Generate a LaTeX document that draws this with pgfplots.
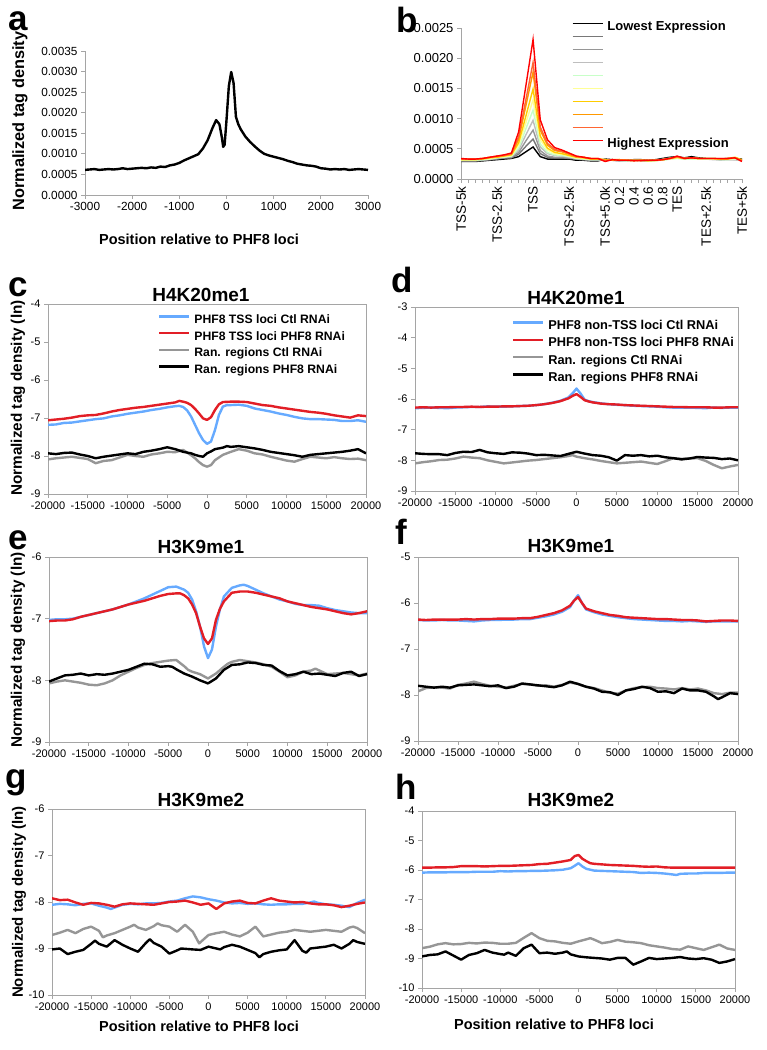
\documentclass[border=0pt]{standalone}
\usepackage{fontspec}
\setmainfont{Liberation Sans}
\usepackage{pgfplots}
\pgfplotsset{compat=1.18}

\definecolor{axgray}{RGB}{165,165,165}
\definecolor{cblue}{RGB}{102,170,255}
\definecolor{cred}{RGB}{226,30,38}
\definecolor{cgray}{RGB}{150,150,150}
\definecolor{e1}{RGB}{0,0,0}
\definecolor{e2}{RGB}{120,120,120}
\definecolor{e3}{RGB}{150,150,150}
\definecolor{e4}{RGB}{190,190,190}
\definecolor{e5}{RGB}{200,255,200}
\definecolor{e6}{RGB}{255,255,150}
\definecolor{e7}{RGB}{255,204,0}
\definecolor{e8}{RGB}{255,153,0}
\definecolor{e9}{RGB}{255,102,51}
\definecolor{e10}{RGB}{255,0,0}

\pgfplotsset{
  /pgf/number format/assume math mode=true,
  /pgf/number format/1000 sep={},
  base/.style={
    scale only axis, scaled ticks=false,
    axis line style={draw=axgray, line width=0.9pt},
    tick style={draw=axgray, line width=0.9pt},
    major tick length=4pt, minor tick length=4pt, tick align=outside,
  },
  boxed/.style={
    base, xtick pos=bottom, ytick pos=left,
    xmin=-20000, xmax=20000, xtick={-20000,-15000,...,20000},
    tick label style={font=\fontsize{11}{12}\selectfont},
  },
  tr/.style={line width=2.4pt, line join=round},
  leg/.style={
    legend image code/.code={\draw[##1] (0pt,4.2pt) -- (30pt,4.2pt);},
    legend cell align=left,
    legend style={draw=none, fill=none, inner sep=0pt, outer sep=0pt,
      anchor=north west, row sep=0pt,
      /tikz/every odd column/.append style={column sep=4pt}},
  },
}

\begin{document}
\begin{tikzpicture}
\useasboundingbox (0,0) rectangle (767pt,1050pt);

% ---------- a ----------
\begin{axis}[base, axis lines*=left, at={(85pt,855pt)}, anchor=south west,
  width=283pt, height=144pt,
  xmin=-3000, xmax=3000, ymin=0, ymax=0.0035,
  xtick={-3000,-2000,...,3000},
  ytick={0,0.0005,0.0010,0.0015,0.0020,0.0025,0.0030,0.0035},
  yticklabel style={/pgf/number format/.cd, fixed, fixed zerofill, precision=4},
  tick label style={font=\fontsize{11.8}{13}\selectfont},
]
\addplot[tr, black] coordinates {
 (-3000,0.00061) (-2900,0.00062) (-2800,0.00063) (-2700,0.00061) (-2600,0.00062) (-2500,0.00063)
 (-2400,0.00062) (-2300,0.00063) (-2200,0.00065) (-2100,0.00063) (-2000,0.00064) (-1900,0.00065)
 (-1800,0.00066) (-1700,0.00065) (-1600,0.00067) (-1500,0.00066) (-1400,0.00069) (-1300,0.00068)
 (-1200,0.00072) (-1100,0.00074) (-1000,0.00078) (-900,0.00084) (-800,0.00089) (-700,0.00094)
 (-600,0.00099) (-500,0.00113) (-400,0.00133) (-300,0.00162) (-220,0.00182) (-150,0.00172)
 (-100,0.00141) (-70,0.00117) (-40,0.00122) (0,0.00182) (50,0.00265) (100,0.00299) (150,0.00272)
 (200,0.00190) (250,0.00172) (300,0.00160) (400,0.00142) (500,0.00129) (600,0.00118) (700,0.00108)
 (800,0.00100) (900,0.00096) (1000,0.00093) (1100,0.00090) (1200,0.00087) (1300,0.00083)
 (1400,0.00080) (1500,0.00076) (1600,0.00074) (1700,0.00072) (1800,0.00071) (1900,0.00069)
 (2000,0.00065) (2100,0.00064) (2200,0.00062) (2300,0.00063) (2400,0.00062) (2500,0.00063)
 (2600,0.00061) (2700,0.00062) (2800,0.00063) (2900,0.00062) (3000,0.00061)};
\end{axis}

% ---------- b ----------
\begin{axis}[base, leg, axis lines*=left, at={(461pt,871pt)}, anchor=south west,
  width=281pt, height=151pt,
  xmin=0, xmax=39, ymin=0, ymax=0.0025,
  xtick={0,5,10,15,20,22,24,26,28,30,34,39},
  xticklabels={TSS-5k,TSS-2.5k,TSS,TSS+2.5k,TSS+5.0k,0.2,0.4,0.6,0.8,TES,TES+2.5k,TES+5k},
  minor xtick={0,...,39},
  xticklabel style={rotate=90, anchor=east, font=\fontsize{13.5}{15}\selectfont},
  ytick={0,0.0005,0.0010,0.0015,0.0020,0.0025},
  yticklabel style={font=\fontsize{13}{15}\selectfont,
    /pgf/number format/.cd, fixed, fixed zerofill, precision=4},
  legend style={at={(0.395,1.045)}, font=\bfseries\fontsize{13}{13}\selectfont,
    nodes={inner sep=0pt, text height=9pt, text depth=4pt}},
]
\addplot[line width=1.4pt, e1] coordinates {
 (0,0.00029) (1,0.00029) (2,0.00029) (3,0.00030) (4,0.00031) (5,0.00032) (6,0.00033) (7,0.00034)
 (8,0.00037) (9,0.00045) (10,0.00053) (11,0.00037) (12,0.00033) (13,0.00033) (14,0.00033) (15,0.00033)
 (16,0.00031) (17,0.00031) (18,0.00030) (19,0.00030) (20,0.00033) (21,0.00032) (22,0.00031) (23,0.00031)
 (24,0.00032) (25,0.00032) (26,0.00031) (27,0.00032) (28,0.00034) (29,0.00036) (30,0.00037) (31,0.00035)
 (32,0.00037) (33,0.00035) (34,0.00034) (35,0.00034) (36,0.00033) (37,0.00034) (38,0.00034) (39,0.00033)};
\addplot[line width=1.4pt, e2] coordinates {
 (0,0.00030) (1,0.00030) (2,0.00030) (3,0.00031) (4,0.00032) (5,0.00033) (6,0.00035) (7,0.00035)
 (8,0.00041) (9,0.00054) (10,0.00066) (11,0.00042) (12,0.00036) (13,0.00035) (14,0.00035) (15,0.00034)
 (16,0.00033) (17,0.00032) (18,0.00031) (19,0.00031) (20,0.00032) (21,0.00031) (22,0.00030) (23,0.00031)
 (24,0.00031) (25,0.00031) (26,0.00030) (27,0.00031) (28,0.00033) (29,0.00035) (30,0.00036) (31,0.00034)
 (32,0.00035) (33,0.00034) (34,0.00033) (35,0.00033) (36,0.00032) (37,0.00033) (38,0.00033) (39,0.00032)};
\addplot[line width=1.4pt, e3] coordinates {
 (0,0.00030) (1,0.00030) (2,0.00030) (3,0.00031) (4,0.00032) (5,0.00034) (6,0.00035) (7,0.00036)
 (8,0.00044) (9,0.00063) (10,0.00081) (11,0.00047) (12,0.00038) (13,0.00036) (14,0.00036) (15,0.00035)
 (16,0.00033) (17,0.00032) (18,0.00031) (19,0.00031) (20,0.00032) (21,0.00031) (22,0.00031) (23,0.00030)
 (24,0.00031) (25,0.00030) (26,0.00030) (27,0.00031) (28,0.00032) (29,0.00034) (30,0.00035) (31,0.00034)
 (32,0.00034) (33,0.00034) (34,0.00033) (35,0.00033) (36,0.00032) (37,0.00032) (38,0.00032) (39,0.00031)};
\addplot[line width=1.4pt, e4] coordinates {
 (0,0.00031) (1,0.00031) (2,0.00031) (3,0.00032) (4,0.00033) (5,0.00035) (6,0.00036) (7,0.00037)
 (8,0.00048) (9,0.00073) (10,0.00097) (11,0.00053) (12,0.00042) (13,0.00039) (14,0.00038) (15,0.00036)
 (16,0.00034) (17,0.00033) (18,0.00032) (19,0.00032) (20,0.00032) (21,0.00031) (22,0.00030) (23,0.00030)
 (24,0.00031) (25,0.00031) (26,0.00030) (27,0.00030) (28,0.00032) (29,0.00033) (30,0.00035) (31,0.00033)
 (32,0.00034) (33,0.00033) (34,0.00033) (35,0.00032) (36,0.00032) (37,0.00033) (38,0.00032) (39,0.00031)};
\addplot[line width=1.4pt, e5] coordinates {
 (0,0.00031) (1,0.00031) (2,0.00031) (3,0.00032) (4,0.00033) (5,0.00035) (6,0.00036) (7,0.00038)
 (8,0.00051) (9,0.00083) (10,0.00114) (11,0.00058) (12,0.00044) (13,0.00040) (14,0.00039) (15,0.00037)
 (16,0.00034) (17,0.00033) (18,0.00032) (19,0.00032) (20,0.00032) (21,0.00031) (22,0.00031) (23,0.00030)
 (24,0.00030) (25,0.00031) (26,0.00030) (27,0.00031) (28,0.00031) (29,0.00033) (30,0.00034) (31,0.00033)
 (32,0.00033) (33,0.00033) (34,0.00033) (35,0.00033) (36,0.00032) (37,0.00032) (38,0.00033) (39,0.00031)};
\addplot[line width=1.4pt, e6] coordinates {
 (0,0.00032) (1,0.00032) (2,0.00032) (3,0.00033) (4,0.00034) (5,0.00036) (6,0.00037) (7,0.00039)
 (8,0.00056) (9,0.00093) (10,0.00131) (11,0.00065) (12,0.00048) (13,0.00042) (14,0.00041) (15,0.00038)
 (16,0.00035) (17,0.00034) (18,0.00033) (19,0.00033) (20,0.00032) (21,0.00031) (22,0.00031) (23,0.00031)
 (24,0.00030) (25,0.00031) (26,0.00031) (27,0.00030) (28,0.00032) (29,0.00033) (30,0.00035) (31,0.00034)
 (32,0.00034) (33,0.00033) (34,0.00034) (35,0.00033) (36,0.00033) (37,0.00033) (38,0.00034) (39,0.00031)};
\addplot[line width=1.4pt, e7] coordinates {
 (0,0.00032) (1,0.00032) (2,0.00032) (3,0.00033) (4,0.00035) (5,0.00036) (6,0.00038) (7,0.00040)
 (8,0.00060) (9,0.00104) (10,0.00149) (11,0.00071) (12,0.00051) (13,0.00044) (14,0.00042) (15,0.00039)
 (16,0.00036) (17,0.00035) (18,0.00033) (19,0.00033) (20,0.00032) (21,0.00031) (22,0.00032) (23,0.00031)
 (24,0.00031) (25,0.00031) (26,0.00030) (27,0.00031) (28,0.00032) (29,0.00034) (30,0.00036) (31,0.00034)
 (32,0.00035) (33,0.00034) (34,0.00034) (35,0.00034) (36,0.00033) (37,0.00034) (38,0.00036) (39,0.00032)};
\addplot[line width=1.4pt, e8] coordinates {
 (0,0.00033) (1,0.00033) (2,0.00033) (3,0.00034) (4,0.00036) (5,0.00037) (6,0.00039) (7,0.00041)
 (8,0.00066) (9,0.00121) (10,0.00177) (11,0.00081) (12,0.00056) (13,0.00047) (14,0.00045) (15,0.00041)
 (16,0.00037) (17,0.00036) (18,0.00034) (19,0.00034) (20,0.00031) (21,0.00032) (22,0.00032) (23,0.00031)
 (24,0.00031) (25,0.00031) (26,0.00031) (27,0.00031) (28,0.00032) (29,0.00034) (30,0.00036) (31,0.00034)
 (32,0.00035) (33,0.00034) (34,0.00034) (35,0.00034) (36,0.00033) (37,0.00033) (38,0.00035) (39,0.00031)};
\addplot[line width=1.4pt, e9] coordinates {
 (0,0.00033) (1,0.00033) (2,0.00033) (3,0.00034) (4,0.00036) (5,0.00038) (6,0.00039) (7,0.00042)
 (8,0.00070) (9,0.00131) (10,0.00193) (11,0.00086) (12,0.00059) (13,0.00049) (14,0.00046) (15,0.00042)
 (16,0.00037) (17,0.00036) (18,0.00034) (19,0.00034) (20,0.00030) (21,0.00032) (22,0.00031) (23,0.00031)
 (24,0.00031) (25,0.00030) (26,0.00031) (27,0.00031) (28,0.00032) (29,0.00034) (30,0.00037) (31,0.00034)
 (32,0.00035) (33,0.00034) (34,0.00034) (35,0.00034) (36,0.00034) (37,0.00034) (38,0.00035) (39,0.00030)};
\addplot[line width=1.4pt, e10] coordinates {
 (0,0.00034) (1,0.00033) (2,0.00033) (3,0.00034) (4,0.00036) (5,0.00038) (6,0.00040) (7,0.00043)
 (8,0.00078) (9,0.00154) (10,0.00231) (11,0.00098) (12,0.00065) (13,0.00052) (14,0.00048) (15,0.00043)
 (16,0.00038) (17,0.00036) (18,0.00034) (19,0.00034) (20,0.00029) (21,0.00032) (22,0.00031) (23,0.00031)
 (24,0.00030) (25,0.00031) (26,0.00031) (27,0.00031) (28,0.00032) (29,0.00034) (30,0.00038) (31,0.00034)
 (32,0.00035) (33,0.00034) (34,0.00034) (35,0.00034) (36,0.00034) (37,0.00034) (38,0.00035) (39,0.00029)};
\legend{Lowest Expression,\mbox{},\mbox{},\mbox{},\mbox{},\mbox{},\mbox{},\mbox{},\mbox{},Highest Expression}
\end{axis}

% ---------- c ----------
\begin{axis}[boxed, leg, at={(48pt,556pt)}, anchor=south west, width=318pt, height=190pt,
  ymin=-9, ymax=-4, ytick={-9,...,-4},
  legend style={at={(0.346,0.956)}, font=\bfseries\fontsize{12.2}{12.2}\selectfont,
    nodes={inner sep=0pt, text height=11pt, text depth=5.7pt}},
]
\addplot[tr, cblue] coordinates {
 (-20000,-7.18) (-19000,-7.17) (-18000,-7.13) (-17000,-7.12) (-16000,-7.09) (-15000,-7.06) (-14000,-7.03)
 (-13000,-7.01) (-12000,-6.96) (-11000,-6.93) (-10000,-6.89) (-9000,-6.86) (-8000,-6.83) (-7000,-6.79)
 (-6000,-6.76) (-5000,-6.72) (-4000,-6.69) (-3500,-6.68) (-3000,-6.71) (-2500,-6.80) (-2000,-6.96)
 (-1500,-7.18) (-1000,-7.40) (-500,-7.58) (0,-7.68) (500,-7.62) (1000,-7.32) (1500,-6.92) (2000,-6.70)
 (2500,-6.66) (3000,-6.66) (4000,-6.65) (5000,-6.68) (6000,-6.75) (7000,-6.79) (8000,-6.83) (9000,-6.88)
 (10000,-6.92) (11000,-6.97) (12000,-7.01) (13000,-7.03) (14000,-7.03) (15000,-7.04) (16000,-7.05)
 (17000,-7.08) (18000,-7.08) (19000,-7.06) (20000,-7.10)};
\addplot[tr, cred] coordinates {
 (-20000,-7.06) (-19000,-7.04) (-18000,-7.02) (-17000,-6.99) (-16000,-6.95) (-15000,-6.93) (-14000,-6.92)
 (-13000,-6.88) (-12000,-6.83) (-11000,-6.79) (-10000,-6.76) (-9000,-6.73) (-8000,-6.71) (-7000,-6.68)
 (-6000,-6.65) (-5000,-6.62) (-4000,-6.59) (-3500,-6.55) (-3000,-6.57) (-2500,-6.60) (-2000,-6.66)
 (-1500,-6.76) (-1000,-6.88) (-500,-7.01) (0,-7.05) (500,-6.98) (1000,-6.79) (1500,-6.64) (2000,-6.58)
 (3000,-6.57) (4000,-6.57) (5000,-6.58) (6000,-6.62) (7000,-6.66) (8000,-6.68) (9000,-6.72) (10000,-6.75)
 (11000,-6.78) (12000,-6.81) (13000,-6.84) (14000,-6.86) (15000,-6.89) (16000,-6.93) (17000,-6.96)
 (18000,-6.99) (19000,-6.93) (20000,-6.95)};
\addplot[tr, cgray] coordinates {
 (-20000,-8.09) (-19000,-8.06) (-18000,-8.04) (-17000,-8.02) (-16000,-8.05) (-15000,-8.08) (-14000,-8.19)
 (-13000,-8.13) (-12000,-8.11) (-11000,-8.04) (-10000,-7.97) (-9000,-8.00) (-8000,-8.02) (-7000,-7.96)
 (-6000,-7.93) (-5000,-7.89) (-4000,-7.90) (-3000,-7.84) (-2000,-7.98) (-1500,-8.06) (-1000,-8.16)
 (-500,-8.24) (0,-8.28) (500,-8.24) (1000,-8.11) (1500,-8.04) (2000,-7.97) (3000,-7.89) (4000,-7.82)
 (5000,-7.86) (6000,-7.93) (7000,-7.96) (8000,-8.02) (9000,-8.07) (10000,-8.12) (11000,-8.15)
 (12000,-8.08) (13000,-8.02) (14000,-8.04) (15000,-8.06) (16000,-8.03) (17000,-8.06) (18000,-8.08)
 (19000,-8.07) (20000,-8.11)};
\addplot[tr, black] coordinates {
 (-20000,-7.93) (-19000,-7.95) (-18000,-7.92) (-17000,-7.91) (-16000,-7.96) (-15000,-8.00) (-14000,-8.06)
 (-13000,-8.02) (-12000,-7.99) (-11000,-7.96) (-10000,-7.93) (-9000,-7.95) (-8000,-7.89) (-7000,-7.86)
 (-6000,-7.82) (-5000,-7.77) (-4000,-7.82) (-3000,-7.89) (-2000,-7.93) (-1500,-7.97) (-1000,-8.00)
 (-500,-8.02) (0,-7.93) (500,-7.88) (1000,-7.82) (2000,-7.78) (2500,-7.74) (3000,-7.76) (4000,-7.74)
 (5000,-7.77) (6000,-7.80) (7000,-7.84) (8000,-7.89) (9000,-7.92) (10000,-7.95) (11000,-7.98)
 (12000,-8.02) (13000,-7.97) (14000,-7.95) (15000,-7.93) (16000,-7.91) (17000,-7.89) (18000,-7.86)
 (19000,-7.82) (20000,-7.93)};
\legend{PHF8 TSS loci Ctl RNAi,PHF8 TSS loci PHF8 RNAi,Ran. regions Ctl RNAi,Ran. regions PHF8 RNAi}
\end{axis}

% ---------- d ----------
\begin{axis}[boxed, leg, at={(415pt,559pt)}, anchor=south west, width=323pt, height=184pt,
  ymin=-9, ymax=-3, ytick={-9,...,-3},
  legend style={at={(0.300,0.940)}, font=\bfseries\fontsize{12.8}{12.8}\selectfont,
    nodes={inner sep=0pt, text height=11.5pt, text depth=5.8pt}},
]
\addplot[tr, cblue] coordinates {
 (-20000,-6.30) (-19000,-6.29) (-18000,-6.28) (-17000,-6.29) (-16000,-6.30) (-15000,-6.28) (-14000,-6.27)
 (-13000,-6.26) (-12000,-6.26) (-11000,-6.24) (-10000,-6.25) (-9000,-6.25) (-8000,-6.24) (-7000,-6.23)
 (-6000,-6.22) (-5000,-6.20) (-4000,-6.17) (-3000,-6.12) (-2000,-6.06) (-1000,-5.95) (-500,-5.82)
 (0,-5.66) (500,-5.82) (1000,-6.02) (1500,-6.07) (2000,-6.10) (3000,-6.14) (4000,-6.17) (5000,-6.19)
 (6000,-6.20) (7000,-6.22) (8000,-6.23) (9000,-6.24) (10000,-6.25) (11000,-6.27) (12000,-6.28)
 (13000,-6.28) (14000,-6.28) (15000,-6.29) (16000,-6.30) (17000,-6.28) (18000,-6.29) (19000,-6.28)
 (20000,-6.28)};
\addplot[tr, cred] coordinates {
 (-20000,-6.28) (-19000,-6.27) (-18000,-6.28) (-17000,-6.27) (-16000,-6.27) (-15000,-6.26) (-14000,-6.26)
 (-13000,-6.25) (-12000,-6.26) (-11000,-6.25) (-10000,-6.25) (-9000,-6.24) (-8000,-6.24) (-7000,-6.23)
 (-6000,-6.22) (-5000,-6.20) (-4000,-6.17) (-3000,-6.13) (-2000,-6.07) (-1000,-5.98) (-500,-5.90)
 (0,-5.84) (500,-5.93) (1000,-6.04) (1500,-6.08) (2000,-6.11) (3000,-6.15) (4000,-6.17) (5000,-6.18)
 (6000,-6.20) (7000,-6.21) (8000,-6.22) (9000,-6.23) (10000,-6.24) (11000,-6.25) (12000,-6.26)
 (13000,-6.26) (14000,-6.27) (15000,-6.27) (16000,-6.27) (17000,-6.28) (18000,-6.28) (19000,-6.27)
 (20000,-6.27)};
\addplot[tr, cgray] coordinates {
 (-20000,-8.10) (-19000,-8.06) (-18000,-8.03) (-17000,-7.99) (-16000,-7.98) (-15000,-7.94) (-14000,-7.88)
 (-13000,-7.91) (-12000,-7.93) (-11000,-8.00) (-10000,-8.05) (-9000,-8.10) (-8000,-8.07) (-7000,-8.04)
 (-6000,-8.01) (-5000,-7.99) (-4000,-7.96) (-3000,-7.93) (-2000,-7.90) (-1000,-7.86) (-500,-7.83)
 (0,-7.88) (1000,-7.93) (2000,-7.97) (3000,-8.02) (4000,-8.06) (5000,-8.10) (6000,-8.08) (7000,-8.06)
 (8000,-8.04) (9000,-8.08) (10000,-8.12) (11000,-8.03) (12000,-7.93) (13000,-7.95) (14000,-7.94)
 (15000,-7.93) (16000,-8.02) (17000,-8.15) (18000,-8.26) (19000,-8.20) (20000,-8.15)};
\addplot[tr, black] coordinates {
 (-20000,-7.77) (-19000,-7.79) (-18000,-7.80) (-17000,-7.80) (-16000,-7.83) (-15000,-7.76) (-14000,-7.72)
 (-13000,-7.73) (-12000,-7.66) (-11000,-7.74) (-10000,-7.77) (-9000,-7.79) (-8000,-7.74) (-7000,-7.75)
 (-6000,-7.78) (-5000,-7.83) (-4000,-7.82) (-3000,-7.84) (-2000,-7.86) (-1000,-7.79) (0,-7.72)
 (1000,-7.78) (2000,-7.83) (3000,-7.85) (4000,-7.90) (5000,-8.01) (6000,-7.83) (7000,-7.85) (8000,-7.83)
 (9000,-7.87) (10000,-7.85) (11000,-7.90) (12000,-7.93) (13000,-7.97) (14000,-7.94) (15000,-7.89)
 (16000,-7.91) (17000,-7.92) (18000,-7.96) (19000,-7.94) (20000,-8.00)};
\legend{PHF8 non-TSS loci Ctl RNAi,PHF8 non-TSS loci PHF8 RNAi,Ran. regions Ctl RNAi,Ran. regions PHF8 RNAi}
\end{axis}

% ---------- e ----------
\begin{axis}[boxed, at={(49pt,308pt)}, anchor=south west, width=318pt, height=185pt,
  ymin=-9, ymax=-6, ytick={-9,...,-6}]
\addplot[tr, cblue] coordinates {
 (-20000,-7.02) (-19000,-7.01) (-18000,-7.01) (-17000,-7.00) (-16000,-6.97) (-15000,-6.94) (-14000,-6.91)
 (-13000,-6.88) (-12000,-6.85) (-11000,-6.81) (-10000,-6.77) (-9000,-6.72) (-8000,-6.67) (-7000,-6.61)
 (-6000,-6.55) (-5000,-6.49) (-4000,-6.48) (-3000,-6.53) (-2500,-6.58) (-2000,-6.69) (-1500,-6.88)
 (-1000,-7.13) (-500,-7.45) (0,-7.64) (500,-7.50) (1000,-7.13) (1500,-6.85) (2000,-6.64) (3000,-6.50)
 (4000,-6.46) (4500,-6.45) (5000,-6.47) (6000,-6.53) (7000,-6.59) (8000,-6.64) (9000,-6.69) (10000,-6.72)
 (11000,-6.76) (12000,-6.78) (13000,-6.78) (14000,-6.79) (15000,-6.83) (16000,-6.86) (17000,-6.88)
 (18000,-6.90) (19000,-6.91) (20000,-6.91)};
\addplot[tr, cred] coordinates {
 (-20000,-7.04) (-19000,-7.03) (-18000,-7.03) (-17000,-7.01) (-16000,-6.97) (-15000,-6.94) (-14000,-6.91)
 (-13000,-6.88) (-12000,-6.85) (-11000,-6.81) (-10000,-6.77) (-9000,-6.74) (-8000,-6.71) (-7000,-6.67)
 (-6000,-6.63) (-5000,-6.60) (-4000,-6.59) (-3500,-6.59) (-3000,-6.62) (-2500,-6.67) (-2000,-6.77)
 (-1500,-6.91) (-1000,-7.13) (-500,-7.32) (0,-7.41) (500,-7.32) (1000,-7.02) (1500,-6.84) (2000,-6.72)
 (3000,-6.58) (4000,-6.56) (5000,-6.56) (6000,-6.58) (7000,-6.61) (8000,-6.64) (9000,-6.67) (10000,-6.72)
 (11000,-6.75) (12000,-6.78) (13000,-6.81) (14000,-6.83) (15000,-6.85) (16000,-6.88) (17000,-6.91)
 (18000,-6.93) (19000,-6.91) (20000,-6.88)};
\addplot[tr, cgray] coordinates {
 (-20000,-8.05) (-19000,-8.02) (-18000,-8.00) (-17000,-8.02) (-16000,-8.04) (-15000,-8.07) (-14000,-8.08)
 (-13000,-8.05) (-12000,-8.00) (-11000,-7.92) (-10000,-7.86) (-9000,-7.80) (-8000,-7.75) (-7000,-7.72)
 (-6000,-7.70) (-5000,-7.68) (-4000,-7.67) (-3000,-7.77) (-2500,-7.83) (-2000,-7.86) (-1000,-7.90)
 (0,-7.97) (1000,-7.89) (2000,-7.78) (2500,-7.73) (3000,-7.70) (4000,-7.67) (5000,-7.69) (6000,-7.71)
 (7000,-7.74) (8000,-7.78) (9000,-7.86) (10000,-7.95) (11000,-7.92) (12000,-7.86) (13000,-7.84)
 (13500,-7.81) (14000,-7.84) (15000,-7.90) (16000,-7.89) (17000,-7.88) (18000,-7.90) (19000,-7.92)
 (20000,-7.89)};
\addplot[tr, black] coordinates {
 (-20000,-8.02) (-19000,-7.97) (-18000,-7.92) (-17000,-7.91) (-16000,-7.89) (-15000,-7.92) (-14000,-7.90)
 (-13000,-7.91) (-12000,-7.89) (-11000,-7.86) (-10000,-7.83) (-9000,-7.78) (-8000,-7.73) (-7000,-7.74)
 (-6000,-7.78) (-5000,-7.77) (-4500,-7.78) (-4000,-7.82) (-3000,-7.89) (-2000,-7.94) (-1000,-8.00)
 (0,-8.05) (1000,-7.97) (2000,-7.83) (3000,-7.75) (4000,-7.74) (5000,-7.71) (6000,-7.72) (7000,-7.75)
 (8000,-7.76) (9000,-7.85) (10000,-7.92) (11000,-7.90) (12000,-7.86) (13000,-7.90) (14000,-7.89)
 (15000,-7.91) (16000,-7.93) (17000,-7.88) (18000,-7.86) (19000,-7.93) (20000,-7.90)};
\end{axis}

% ---------- f ----------
\begin{axis}[boxed, at={(418pt,309pt)}, anchor=south west, width=320pt, height=184pt,
  ymin=-9, ymax=-5, ytick={-9,...,-5}]
\addplot[tr, cblue] coordinates {
 (-20000,-6.37) (-19000,-6.38) (-18000,-6.38) (-17000,-6.37) (-16000,-6.38) (-15000,-6.38) (-14000,-6.39)
 (-13000,-6.40) (-12000,-6.38) (-11000,-6.37) (-10000,-6.37) (-9000,-6.36) (-8000,-6.36) (-7000,-6.35)
 (-6000,-6.35) (-5000,-6.32) (-4000,-6.29) (-3000,-6.25) (-2000,-6.19) (-1000,-6.09) (-500,-5.95)
 (0,-5.83) (500,-6.00) (1000,-6.14) (2000,-6.20) (3000,-6.25) (4000,-6.28) (5000,-6.31) (6000,-6.33)
 (7000,-6.35) (8000,-6.36) (9000,-6.37) (10000,-6.38) (11000,-6.39) (12000,-6.39) (13000,-6.40)
 (14000,-6.39) (15000,-6.40) (16000,-6.41) (17000,-6.40) (18000,-6.40) (19000,-6.40) (20000,-6.40)};
\addplot[tr, cred] coordinates {
 (-20000,-6.36) (-19000,-6.37) (-18000,-6.36) (-17000,-6.36) (-16000,-6.36) (-15000,-6.36) (-14000,-6.35)
 (-13000,-6.36) (-12000,-6.35) (-11000,-6.35) (-10000,-6.34) (-9000,-6.34) (-8000,-6.34) (-7000,-6.33)
 (-6000,-6.33) (-5000,-6.30) (-4000,-6.26) (-3000,-6.22) (-2000,-6.16) (-1000,-6.06) (-500,-5.95)
 (0,-5.87) (500,-6.00) (1000,-6.12) (2000,-6.18) (3000,-6.22) (4000,-6.26) (5000,-6.28) (6000,-6.31)
 (7000,-6.32) (8000,-6.33) (9000,-6.34) (10000,-6.35) (11000,-6.35) (12000,-6.36) (13000,-6.37)
 (14000,-6.37) (15000,-6.38) (16000,-6.40) (17000,-6.39) (18000,-6.38) (19000,-6.38) (20000,-6.39)};
\addplot[tr, cgray] coordinates {
 (-20000,-7.92) (-19000,-7.85) (-18000,-7.83) (-17000,-7.84) (-16000,-7.86) (-15000,-7.78) (-14000,-7.75)
 (-13000,-7.71) (-12000,-7.76) (-11000,-7.80) (-10000,-7.82) (-9000,-7.84) (-8000,-7.80) (-7000,-7.76)
 (-6000,-7.77) (-5000,-7.80) (-4000,-7.79) (-3000,-7.82) (-2000,-7.78) (-1000,-7.73) (0,-7.76)
 (1000,-7.82) (2000,-7.85) (3000,-7.90) (4000,-7.95) (5000,-7.97) (6000,-7.90) (7000,-7.85) (8000,-7.83)
 (9000,-7.82) (10000,-7.85) (11000,-7.86) (12000,-7.88) (13000,-7.85) (14000,-7.88) (15000,-7.86)
 (16000,-7.90) (17000,-7.96) (18000,-7.98) (19000,-7.95) (20000,-7.95)};
\addplot[tr, black] coordinates {
 (-20000,-7.80) (-19000,-7.82) (-18000,-7.84) (-17000,-7.82) (-16000,-7.84) (-15000,-7.79) (-14000,-7.78)
 (-13000,-7.77) (-12000,-7.79) (-11000,-7.81) (-10000,-7.79) (-9000,-7.85) (-8000,-7.82) (-7000,-7.75)
 (-6000,-7.77) (-5000,-7.79) (-4000,-7.81) (-3000,-7.83) (-2000,-7.79) (-1000,-7.71) (0,-7.76)
 (1000,-7.82) (2000,-7.86) (3000,-7.93) (4000,-7.94) (5000,-8.00) (6000,-7.90) (7000,-7.87) (8000,-7.82)
 (9000,-7.85) (10000,-7.93) (11000,-7.92) (12000,-7.96) (13000,-7.86) (14000,-7.90) (15000,-7.90)
 (16000,-7.93) (17000,-8.03) (17500,-8.09) (18000,-8.05) (19000,-7.96) (20000,-7.98)};
\end{axis}

% ---------- g ----------
\begin{axis}[boxed, at={(52pt,55pt)}, anchor=south west, width=313pt, height=186pt,
  ymin=-10, ymax=-6, ytick={-10,...,-6}]
\addplot[tr, cblue] coordinates {
 (-20000,-8.06) (-19000,-8.04) (-18000,-8.05) (-17000,-8.07) (-16000,-8.04) (-15000,-8.03) (-14000,-8.08)
 (-13000,-8.12) (-12500,-8.15) (-12000,-8.12) (-11000,-8.06) (-10000,-8.04) (-9000,-8.05) (-8000,-8.03)
 (-7000,-8.03) (-6000,-8.02) (-5000,-7.99) (-4000,-7.97) (-3000,-7.92) (-2000,-7.88) (-1000,-7.90)
 (0,-7.94) (1000,-7.97) (2000,-8.01) (3000,-8.03) (4000,-8.02) (5000,-8.04) (6000,-8.03) (7000,-8.05)
 (8000,-8.06) (9000,-8.05) (10000,-8.05) (11000,-8.04) (12000,-8.04) (13000,-8.01) (13500,-7.99)
 (14000,-8.02) (15000,-8.05) (16000,-8.06) (17000,-8.08) (18000,-8.11) (19000,-8.02) (20000,-7.95)};
\addplot[tr, cred] coordinates {
 (-20000,-7.92) (-19000,-7.96) (-18000,-7.95) (-17000,-8.01) (-16000,-8.06) (-15000,-8.02) (-14000,-8.03)
 (-13000,-8.06) (-12000,-8.10) (-11000,-8.05) (-10000,-8.03) (-9000,-8.04) (-8000,-8.05) (-7000,-8.06)
 (-6000,-8.03) (-5000,-8.00) (-4000,-7.99) (-3000,-7.97) (-2000,-8.01) (-1000,-8.06) (0,-8.03)
 (1000,-8.15) (2000,-8.03) (3000,-7.99) (4000,-7.97) (5000,-8.02) (6000,-8.03) (7000,-7.97) (8000,-7.92)
 (9000,-7.97) (10000,-7.99) (11000,-8.01) (12000,-8.00) (13000,-8.03) (14000,-8.05) (15000,-8.05)
 (16000,-8.07) (17000,-8.11) (18000,-8.08) (19000,-8.04) (20000,-8.01)};
\addplot[tr, cgray] coordinates {
 (-20000,-8.71) (-19000,-8.66) (-18000,-8.60) (-17000,-8.67) (-16000,-8.58) (-15000,-8.53) (-14000,-8.62)
 (-13500,-8.76) (-13000,-8.72) (-12000,-8.67) (-11000,-8.60) (-10000,-8.53) (-9500,-8.49) (-9000,-8.55)
 (-8000,-8.60) (-7000,-8.52) (-6500,-8.46) (-6000,-8.50) (-5000,-8.53) (-4000,-8.64) (-3000,-8.49)
 (-2000,-8.64) (-1200,-8.89) (0,-8.71) (1000,-8.67) (2000,-8.64) (3000,-8.70) (4000,-8.74) (5000,-8.66)
 (6000,-8.53) (7000,-8.74) (8000,-8.70) (9000,-8.66) (10000,-8.64) (11000,-8.60) (12000,-8.62)
 (13000,-8.64) (14000,-8.62) (15000,-8.60) (16000,-8.62) (17000,-8.64) (18000,-8.55) (18500,-8.53)
 (19000,-8.56) (20000,-8.67)};
\addplot[tr, black] coordinates {
 (-20000,-9.02) (-19000,-9.00) (-18000,-9.12) (-17000,-9.07) (-16000,-9.03) (-15000,-8.90) (-14500,-8.83)
 (-14000,-8.90) (-13000,-8.96) (-12000,-8.82) (-11000,-8.92) (-10000,-9.00) (-9000,-9.07) (-8000,-8.88)
 (-7500,-8.80) (-7000,-8.88) (-6000,-8.96) (-5000,-9.11) (-4000,-9.04) (-3500,-9.00) (-2000,-9.02)
 (-1000,-9.03) (0,-8.96) (1000,-9.00) (1500,-9.02) (2000,-8.97) (3000,-8.92) (4000,-8.96) (5000,-9.03)
 (6000,-9.10) (6500,-9.19) (7000,-9.12) (8000,-9.07) (9000,-9.04) (10000,-9.02) (11000,-8.82)
 (12000,-9.05) (12500,-9.09) (13000,-9.00) (14000,-8.98) (15000,-8.96) (16000,-8.92) (17000,-9.00)
 (18000,-8.90) (18500,-8.82) (19000,-8.86) (20000,-8.90)};
\end{axis}

% ---------- h ----------
\begin{axis}[boxed, at={(422pt,62pt)}, anchor=south west, width=313pt, height=177pt,
  ymin=-10, ymax=-4, ytick={-10,...,-4}]
\addplot[tr, cblue] coordinates {
 (-20000,-6.09) (-19000,-6.08) (-18000,-6.08) (-17000,-6.08) (-16000,-6.07) (-15000,-6.07) (-14000,-6.07)
 (-13000,-6.06) (-12000,-6.06) (-11000,-6.06) (-10000,-6.04) (-9000,-6.05) (-8000,-6.04) (-7000,-6.04)
 (-6000,-6.03) (-5000,-6.03) (-4000,-6.02) (-3000,-6.01) (-2000,-5.99) (-1000,-5.94) (-500,-5.86)
 (0,-5.77) (500,-5.88) (1000,-5.96) (2000,-6.02) (3000,-6.03) (4000,-6.04) (5000,-6.05) (6000,-6.06)
 (7000,-6.07) (8000,-6.10) (9000,-6.09) (10000,-6.10) (11000,-6.12) (12000,-6.15) (12500,-6.17)
 (13000,-6.13) (14000,-6.12) (15000,-6.12) (16000,-6.10) (17000,-6.10) (18000,-6.10) (19000,-6.09)
 (20000,-6.09)};
\addplot[tr, cred] coordinates {
 (-20000,-5.92) (-19000,-5.92) (-18000,-5.91) (-17000,-5.91) (-16000,-5.90) (-15000,-5.87) (-14000,-5.87)
 (-13000,-5.87) (-12000,-5.88) (-11000,-5.87) (-10000,-5.86) (-9000,-5.86) (-8000,-5.85) (-7000,-5.84)
 (-6000,-5.83) (-5000,-5.80) (-4000,-5.79) (-3000,-5.75) (-2000,-5.71) (-1000,-5.66) (-500,-5.53)
 (0,-5.49) (500,-5.62) (1000,-5.70) (1500,-5.77) (2000,-5.79) (3000,-5.81) (4000,-5.83) (5000,-5.84)
 (6000,-5.85) (7000,-5.86) (8000,-5.88) (9000,-5.89) (10000,-5.88) (11000,-5.91) (12000,-5.92)
 (13000,-5.92) (14000,-5.92) (15000,-5.92) (16000,-5.92) (17000,-5.92) (18000,-5.92) (19000,-5.92)
 (20000,-5.92)};
\addplot[tr, cgray] coordinates {
 (-20000,-8.65) (-19000,-8.60) (-18000,-8.52) (-17000,-8.48) (-16000,-8.52) (-15000,-8.51) (-14000,-8.47)
 (-13000,-8.49) (-12000,-8.46) (-11000,-8.47) (-10000,-8.50) (-9000,-8.50) (-8000,-8.47) (-7000,-8.30)
 (-6000,-8.14) (-5000,-8.31) (-4000,-8.40) (-3000,-8.42) (-2000,-8.47) (-1000,-8.50) (0,-8.42)
 (1000,-8.35) (1500,-8.31) (2000,-8.36) (3000,-8.48) (4000,-8.44) (5000,-8.37) (6000,-8.43) (7000,-8.45)
 (8000,-8.48) (9000,-8.55) (10000,-8.59) (11000,-8.63) (12000,-8.68) (13000,-8.70) (14000,-8.59)
 (15000,-8.65) (16000,-8.71) (17000,-8.62) (18000,-8.53) (19000,-8.66) (20000,-8.71)};
\addplot[tr, black] coordinates {
 (-20000,-8.93) (-19000,-8.88) (-18000,-8.86) (-17000,-8.76) (-16000,-8.90) (-15000,-9.04) (-14000,-8.88)
 (-13000,-8.82) (-12000,-8.71) (-11000,-8.80) (-10000,-8.85) (-9500,-8.87) (-9000,-8.80) (-8000,-8.91)
 (-7000,-8.65) (-6000,-8.53) (-5000,-8.82) (-4000,-8.80) (-3000,-8.84) (-2000,-8.80) (-1500,-8.76)
 (-1000,-8.86) (0,-8.93) (1000,-8.96) (2000,-8.98) (3000,-9.00) (4000,-9.04) (5000,-8.98) (6000,-8.98)
 (7000,-9.21) (8000,-9.10) (9000,-8.98) (10000,-9.02) (11000,-9.00) (12000,-8.98) (13000,-8.95)
 (14000,-9.00) (15000,-9.02) (16000,-8.99) (17000,-9.04) (18000,-9.15) (19000,-9.10) (20000,-9.02)};
\end{axis}

% ---------- panel letters, titles, axis labels ----------
\begin{scope}[every node/.style={font=\bfseries\fontsize{35}{35}\selectfont, anchor=base west, inner sep=0pt}]
\node at (8pt,1019pt) {a};
\node at (396pt,1017pt) {b};
\node at (8pt,753pt) {c};
\node at (391pt,757pt) {d};
\node at (8pt,500pt) {e};
\node at (395pt,505pt) {f};
\node at (5pt,261pt) {g};
\node at (395pt,250pt) {h};
\end{scope}
\begin{scope}[every node/.style={font=\bfseries\fontsize{19}{19}\selectfont, anchor=base, inner sep=0pt}]
\node at (201pt,748pt) {H4K20me1};
\node at (576pt,745pt) {H4K20me1};
\node at (201pt,496pt) {H3K9me1};
\node at (571pt,497pt) {H3K9me1};
\node at (201pt,243pt) {H3K9me2};
\node at (571pt,243pt) {H3K9me2};
\end{scope}
\node[rotate=90, font=\bfseries\fontsize{16.3}{16.3}\selectfont, inner sep=0pt] at (20pt,929pt) {Normalized tag density};
\node[rotate=90, font=\bfseries\fontsize{15.3}{15.3}\selectfont, inner sep=0pt] at (18pt,652pt) {Normalized tag density (ln)};
\node[rotate=90, font=\bfseries\fontsize{15.3}{15.3}\selectfont, inner sep=0pt] at (18pt,400pt) {Normalized tag density (ln)};
\node[rotate=90, font=\bfseries\fontsize{15}{15}\selectfont, inner sep=0pt] at (19pt,148pt) {Normalized tag density (ln)};
\begin{scope}[every node/.style={font=\bfseries\fontsize{14.5}{14.5}\selectfont, anchor=base, inner sep=0pt}]
\node at (199pt,805pt) {Position relative to PHF8 loci};
\node at (199pt,18pt) {Position relative to PHF8 loci};
\node at (554pt,20pt) {Position relative to PHF8 loci};
\end{scope}
\end{tikzpicture}
\end{document}
